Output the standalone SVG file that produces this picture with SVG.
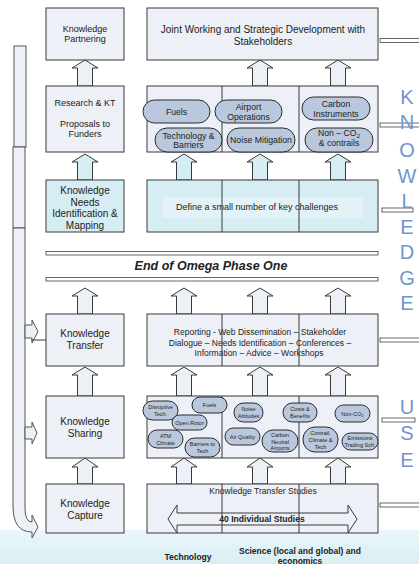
<svg xmlns="http://www.w3.org/2000/svg" width="419" height="564" viewBox="0 0 419 564">
<defs>
<linearGradient id="band" x1="0" y1="0" x2="0" y2="1">
<stop offset="0" stop-color="#eaf6f9"/>
<stop offset="1" stop-color="#d9eef4"/>
</linearGradient>
<style>
.box{fill:#edf0f7;stroke:#3a3a3a;stroke-width:1}
.blue{fill:#d6edf4;stroke:#3a3a3a;stroke-width:1}
.bub{fill:#b9c8dd;stroke:#2a2a2a;stroke-width:1}
.dv{stroke:#3a3a3a;stroke-width:1}
.dl{fill:#fff;stroke:#444;stroke-width:0.8}
.arr{fill:#edf0f7;stroke:#3a3a3a;stroke-width:1}
.arrb{fill:#d6edf4;stroke:#3a3a3a;stroke-width:1}
.bar{fill:#edf0f7;stroke:#555;stroke-width:1}
text{font-family:"Liberation Sans",Arial,sans-serif;fill:#222;text-anchor:middle}
.l10{font-size:10px}
.l9{font-size:9px}
.b8{font-size:8.7px}
.s5{font-size:5.5px}
.kl{font-size:20px;fill:#7096cf}
.bd{font-weight:bold}
</style>
</defs>
<rect x="0" y="530" width="419" height="34" fill="url(#band)"/>

<g id="connectors">
<rect class="bar" x="14" y="46" width="12" height="101"/>
<rect class="bar" x="13" y="147" width="12" height="81"/>
<path class="bar" d="M13,228 V506 Q13,532 32,532 V538 L38,527 L32,515 V522 Q25,522 25,508 V228 Z"/>
<path class="bar" d="M25,325 H32 V320 L38,331.5 L32,343 V338 H25 Z"/>
<line class="dv" x1="31" y1="340" x2="46" y2="340"/>
<path class="bar" d="M25,427 H32 V422 L37,433 L32,444 V439 H25 Z"/>
<path class="arr" d="M77.5,86 V68 H72 L85,60 L98,68 H92.5 V86 Z"/>
<path class="arr" d="M252.5,86 V68 H247 L260,60 L273,68 H267.5 V86 Z"/>
<path class="arr" d="M330.5,86 V68 H325 L338,60 L351,68 H345.5 V86 Z"/>
<path class="arrb" d="M77.5,180 V162 H72 L85,154 L98,162 H92.5 V180 Z"/>
<path class="arrb" d="M176.5,180 V162 H171 L184,154 L197,162 H191.5 V180 Z"/>
<path class="arrb" d="M252.5,180 V162 H247 L260,154 L273,162 H267.5 V180 Z"/>
<path class="arrb" d="M330.5,180 V162 H325 L338,154 L351,162 H345.5 V180 Z"/>
<path class="arr" d="M77.5,314 V296 H72 L85,288 L98,296 H92.5 V314 Z"/>
<path class="arr" d="M176.5,314 V296 H171 L184,288 L197,296 H191.5 V314 Z"/>
<path class="arr" d="M252.5,314 V296 H247 L260,288 L273,296 H267.5 V314 Z"/>
<path class="arr" d="M330.5,314 V296 H325 L338,288 L351,296 H345.5 V314 Z"/>
<path class="arr" d="M77.5,396 V375 H72 L85,367 L98,375 H92.5 V396 Z"/>
<path class="arr" d="M176.5,396 V375 H171 L184,367 L197,375 H191.5 V396 Z"/>
<path class="arr" d="M252.5,396 V375 H247 L260,367 L273,375 H267.5 V396 Z"/>
<path class="arr" d="M330.5,396 V375 H325 L338,367 L351,375 H345.5 V396 Z"/>
<path class="arr" d="M77.5,484 V467 H72 L85,458 L98,467 H92.5 V484 Z"/>
<path class="arr" d="M176.5,484 V467 H171 L184,458 L197,467 H191.5 V484 Z"/>
<path class="arr" d="M252.5,484 V467 H247 L260,458 L273,467 H267.5 V484 Z"/>
<path class="arr" d="M330.5,484 V467 H325 L338,458 L351,467 H345.5 V484 Z"/>
<rect class="dl" x="380" y="38.5" width="40" height="4"/>
<rect class="dl" x="380" y="123" width="40" height="4"/>
<rect class="dl" x="382" y="208" width="31" height="4"/>
<rect class="dl" x="380" y="338" width="40" height="4"/>
<rect class="dl" x="382" y="418" width="33" height="4"/>
<rect class="dl" x="380" y="503" width="40" height="4"/>
</g>

<g id="knowledge-partnering">
<rect class="box" x="46" y="8" width="78" height="52"/>
<text class="l9" x="85" y="32">Knowledge</text>
<text class="l9" x="85" y="42">Partnering</text>
</g>
<g id="joint-working">
<rect class="box" x="147" y="8" width="231" height="52"/>
<text class="l10" x="263" y="32.5">Joint Working and Strategic Development with</text>
<text class="l10" x="263" y="44.5">Stakeholders</text>
</g>
<g id="research-kt">
<rect class="box" x="46" y="86" width="78" height="66"/>
<text class="l9" x="85" y="106">Research &amp; KT</text>
<text class="l9" x="85" y="127">Proposals to</text>
<text class="l9" x="85" y="137">Funders</text>
</g>
<g id="research-themes">
<rect class="box" x="147" y="86" width="231" height="66"/>
<line class="dv" x1="222" y1="86" x2="222" y2="152"/>
<line class="dv" x1="299" y1="86" x2="299" y2="152"/>
<rect class="bub" x="143" y="100" width="67" height="23" rx="11.5"/>
<text class="b8" x="176.5" y="114.5">Fuels</text>
<rect class="bub" x="155" y="128" width="67" height="24" rx="12"/>
<text class="b8" x="188.5" y="138.5">Technology &amp;</text>
<text class="b8" x="188.5" y="148">Barriers</text>
<rect class="bub" x="215" y="100" width="67" height="23" rx="11.5"/>
<text class="b8" x="248.5" y="109.5">Airport</text>
<text class="b8" x="248.5" y="119.5">Operations</text>
<rect class="bub" x="227" y="128" width="68" height="24" rx="12"/>
<text class="b8" x="261" y="143">Noise Mitigation</text>
<rect class="bub" x="302" y="97" width="68" height="23" rx="11.5"/>
<text class="b8" x="336" y="107">Carbon</text>
<text class="b8" x="336" y="116.5">Instruments</text>
<rect class="bub" x="305" y="128" width="68" height="24" rx="12"/>
<text class="b8" x="339" y="136">Non – CO<tspan font-size="6px" dy="1.5">2</tspan></text>
<text class="b8" x="339" y="146">&amp; contrails</text>
</g>
<g id="knowledge-needs">
<rect class="blue" x="46" y="180" width="78" height="52"/>
<text class="l10" x="85" y="193.5">Knowledge</text>
<text class="l10" x="85" y="205.5">Needs</text>
<text class="l10" x="85" y="217">Identification &amp;</text>
<text class="l10" x="85" y="229">Mapping</text>
</g>
<g id="key-challenges">
<rect class="blue" x="147" y="180" width="231" height="52"/>
<rect x="163" y="197" width="200" height="21" fill="#e2f2f7"/>
<line class="dv" x1="222" y1="180" x2="222" y2="232"/>
<line class="dv" x1="299" y1="180" x2="299" y2="232"/>
<text class="l9" x="257" y="210">Define a small number of key challenges</text>
</g>
<g id="end-phase-one">
<rect class="dl" x="46" y="251.5" width="332" height="3.5"/>
<text class="bd" x="211" y="270" font-size="12.5px" font-style="italic" fill="#111">End of Omega Phase One</text>
<rect class="dl" x="46" y="277.5" width="332" height="3.5"/>
</g>
<g id="knowledge-transfer">
<rect class="box" x="46" y="314" width="78" height="52"/>
<text class="l10" x="85" y="336.5">Knowledge</text>
<text class="l10" x="85" y="348.5">Transfer</text>
</g>
<g id="reporting">
<rect class="box" x="147" y="314" width="231" height="52"/>
<text x="260" y="335" font-size="8.5px">Reporting - Web Dissemination – Stakeholder</text>
<text x="260" y="345.5" font-size="8.5px">Dialogue – Needs Identification – Conferences –</text>
<text x="259" y="356" font-size="8.5px">Information – Advice – Workshops</text>
<line class="dv" x1="222" y1="314" x2="222" y2="366"/>
<line class="dv" x1="299" y1="314" x2="299" y2="366"/>
</g>
<g id="knowledge-sharing">
<rect class="box" x="46" y="396" width="78" height="62"/>
<text class="l10" x="85" y="425">Knowledge</text>
<text class="l10" x="85" y="437">Sharing</text>
</g>
<g id="sharing-topics">
<rect class="box" x="147" y="396" width="231" height="62"/>
<line class="dv" x1="222" y1="396" x2="222" y2="458"/>
<line class="dv" x1="299" y1="396" x2="299" y2="458"/>
<rect class="bub" x="143" y="401" width="35" height="19" rx="9.5"/>
<text class="s5" x="160.5" y="409">Disruptive</text>
<text class="s5" x="160.5" y="416">Tech.</text>
<rect class="bub" x="192" y="397" width="35" height="16" rx="8"/>
<text class="s5" x="209.5" y="407">Fuels</text>
<rect class="bub" x="172" y="415" width="35" height="15" rx="7.5"/>
<text class="s5" x="189.5" y="424.5">Open Rotor</text>
<rect class="bub" x="148" y="430" width="35" height="18" rx="9"/>
<text class="s5" x="165.5" y="438">ATM</text>
<text class="s5" x="165.5" y="445">Climate</text>
<rect class="bub" x="185" y="438" width="35" height="19" rx="9.5"/>
<text class="s5" x="202.5" y="446">Barriers to</text>
<text class="s5" x="202.5" y="453">Tech</text>
<rect class="bub" x="234" y="403" width="29" height="19" rx="9.5"/>
<text class="s5" x="248.5" y="411">Noise</text>
<text class="s5" x="248.5" y="418">Attitudes</text>
<rect class="bub" x="225" y="428" width="35" height="17" rx="8.5"/>
<text class="s5" x="242.5" y="438.5">Air Quality</text>
<rect class="bub" x="262" y="430" width="36" height="22" rx="11"/>
<text class="s5" x="280" y="437">Carbon</text>
<text class="s5" x="280" y="443.5">Neutral</text>
<text class="s5" x="280" y="450">Airports</text>
<rect class="bub" x="283" y="403" width="34" height="19" rx="9.5"/>
<text class="s5" x="300" y="411">Costs &amp;</text>
<text class="s5" x="300" y="418">Benefits</text>
<rect class="bub" x="335" y="405" width="35" height="17" rx="8.5"/>
<text class="s5" x="352.5" y="415.5">Non-CO<tspan font-size="4px" dy="1">2</tspan></text>
<rect class="bub" x="303" y="427" width="35" height="25" rx="12"/>
<text class="s5" x="320.5" y="434.5">Contrail,</text>
<text class="s5" x="320.5" y="441.5">Climate &amp;</text>
<text class="s5" x="320.5" y="448.5">Tech</text>
<rect class="bub" x="342" y="433" width="36" height="17" rx="8.5"/>
<text class="s5" x="360" y="440">Emissions</text>
<text class="s5" x="360" y="447">Trading Sch.</text>
</g>
<g id="knowledge-capture">
<rect class="box" x="46" y="484" width="78" height="49"/>
<text class="l10" x="85" y="506.5">Knowledge</text>
<text class="l10" x="85" y="518.5">Capture</text>
</g>
<g id="kt-studies">
<rect class="box" x="147" y="484" width="231" height="49"/>
<text x="263" y="494" font-size="8.6px">Knowledge Transfer Studies</text>
<path class="arr" d="M168,519 L177,505 V513 H348 V505 L357,519 L348,533 V525 H177 V533 Z"/>
<text class="bd" x="262" y="522" font-size="8.6px">40 Individual Studies</text>
<line class="dv" x1="222" y1="484" x2="222" y2="533"/>
<line class="dv" x1="299" y1="484" x2="299" y2="533"/>
</g>
<g id="knowledge-letters">
<text class="kl" x="407" y="104">K</text>
<text class="kl" x="407" y="129">N</text>
<text class="kl" x="407" y="157">O</text>
<text class="kl" x="407" y="183">W</text>
<text class="kl" x="407" y="208">L</text>
<text class="kl" x="407" y="234">E</text>
<text class="kl" x="407" y="259">D</text>
<text class="kl" x="407" y="285">G</text>
<text class="kl" x="407" y="310">E</text>
</g>
<g id="use-letters">
<text class="kl" x="407" y="414">U</text>
<text class="kl" x="407" y="440">S</text>
<text class="kl" x="407" y="467">E</text>
</g>
<g id="bottom-labels">
<text class="bd" x="188" y="560" font-size="8.5px">Technology</text>
<text class="bd" x="300" y="554" font-size="8.5px">Science (local and global) and</text>
<text class="bd" x="300" y="563.5" font-size="8.5px">economics</text>
</g>
</svg>
